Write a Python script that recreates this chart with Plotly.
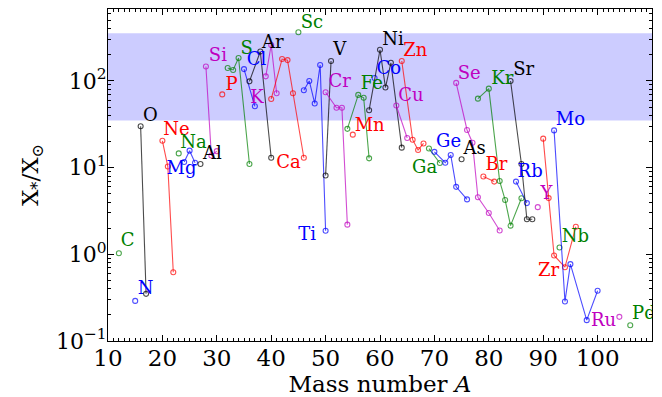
import math
import plotly.graph_objects as go

# ---- data ----
elements = ["C", "N", "O", "Ne", "Na", "Mg", "Al", "Si", "P", "S", "Cl", "Ar", "K", "Ca",
            "Sc", "Ti", "V", "Cr", "Mn", "Fe", "Co", "Ni", "Cu", "Zn", "Ga", "Ge", "As",
            "Se", "Br", "Kr", "Rb", "Sr", "Y", "Zr", "Nb", "Mo", "Ru", "Pd"]
atomic_numbers = [6, 7, 8, 10, 11, 12, 13, 14, 15, 16, 17, 18, 19, 20, 21, 22, 23, 24, 25,
                  26, 27, 28, 29, 30, 31, 32, 33, 34, 35, 36, 37, 38, 39, 40, 41, 42, 44, 46]
mass_numbers = [
    [12], [15], [16, 17], [20, 21, 22], [23], [24, 25, 26], [27], [28, 29, 30], [31],
    [32, 33, 34, 36], [35, 37], [36, 38, 40], [39, 40, 41], [40, 42, 43, 44, 46], [45],
    [46, 47, 48, 49, 50], [50, 51], [50, 52, 53, 54], [55], [54, 56, 57, 58], [59],
    [58, 60, 61, 62, 64], [63, 65], [64, 66, 67, 68], [69, 71], [70, 72, 73, 74, 76], [75],
    [74, 76, 77, 78, 80, 82], [79, 81], [78, 80, 82, 83, 84, 86], [85, 87], [84, 86, 87, 88],
    [89], [90, 91, 92, 94, 96], [93], [92, 94, 95, 98, 100], [104], [106]]
abundance_ratios = [
    [1.03], [0.29], [30, 0.35], [20.4, 10.3, 0.62], [14.6], [11.6, 15.7, 11.4], [11.0],
    [147, 13.8, 15.5], [70], [141, 134, 184, 11], [137, 51], [99, 219, 13], [113, 260, 72],
    [62, 179, 174, 72, 13], [364], [78, 100, 55, 153, 1.87], [8.1, 170], [74, 49, 49, 2.2],
    [24], [28, 69, 64, 12.8], [108], [46, 229, 84, 162, 17], [52, 22], [170, 21, 16, 19],
    [16.6, 11.3], [15.2, 11.4, 14.0, 6.0, 4.3], [12.5], [95, 27.2, 19.4, 4.56, 3.0, 1.88],
    [7.9, 6.9], [62.5, 81.5, 7.0, 4.24, 2.14, 4.44], [6.9, 3.9], [100, 11, 2.54, 2.54],
    [3.5], [21.6, 4.45, 0.97, 0.71, 2.08], [1.2], [26.9, 0.286, 0.77, 0.174, 0.38],
    [0.19], [0.152]]
label_A = [13.6, 16.9, 17.8, 22.6, 25.7, 23.5, 29.2, 30.2, 32.7, 35.5, 37.3, 40.3, 37.4, 43.2,
           47.5, 46.6, 52.6, 52.6, 58.1, 58.5, 61.6, 62.4, 65.7, 66.5, 68.2, 72.6, 77.4,
           76.4, 81.4, 82.5, 87.6, 86.4, 90.6, 91.0, 95.9, 95.0, 101.1, 108.5]
label_X = [1.39, 0.39, 38.7, 26.7, 18.8, 9.4, 14.0, 189, 87.5, 232, 171, 272, 62, 11.2,
           463, 1.64, 223, 95.5, 29.7, 90, 134, 292, 65.9, 218, 9.8, 19.4, 16.3,
           120, 10.5, 105, 8.75, 131, 4.84, 0.63, 1.57, 34.8, 0.168, 0.2]
solar_band = [35, 355]
x_ticks = [10, 20, 30, 40, 50, 60, 70, 80, 90, 100]
y_ticks = [0.1, 1, 10, 100]
y_ticktext = ["10<sup>\u22121</sup>", "10<sup>0</sup>", "10<sup>1</sup>", "10<sup>2</sup>"]

# ---- styling ----
palette = {1: "rgb(0,128,0)", 2: "rgb(0,0,255)", 3: "rgb(0,0,0)", 4: "rgb(191,0,191)", 0: "rgb(255,0,0)"}
palette_a = {1: "rgba(0,128,0,0.7)", 2: "rgba(0,0,255,0.7)", 3: "rgba(0,0,0,0.7)",
             4: "rgba(191,0,191,0.7)", 0: "rgba(255,0,0,0.7)"}
FONT = "DejaVu Serif"

fig = go.Figure()

for name, z, A, X in zip(elements, atomic_numbers, mass_numbers, abundance_ratios):
    k = z % 5
    fig.add_trace(go.Scatter(
        x=A, y=X, mode="lines+markers", name=name, showlegend=False,
        line=dict(color=palette_a[k], width=1.1),
        marker=dict(symbol="circle-open", size=5, color=palette_a[k], line=dict(width=1.1)),
        hoverinfo="skip"))

fig.add_trace(go.Scatter(
    x=label_A, y=label_X, mode="text", text=elements, showlegend=False,
    textfont=dict(family=FONT, size=18,
                  color=[palette[z % 5] for z in atomic_numbers]),
    hoverinfo="skip"))

fig.add_shape(type="rect", xref="paper", x0=0, x1=1, yref="y",
              y0=solar_band[0], y1=solar_band[1],
              fillcolor="rgba(0,0,255,0.2)", line=dict(width=0), layer="below")

fig.update_xaxes(
    range=[10, 110], tickvals=x_ticks, ticks="inside", ticklen=6, tickwidth=1,
    tickcolor="black", showline=True, linecolor="black", linewidth=1, mirror="ticks",
    showgrid=False, zeroline=False, automargin=False, ticklabelstandoff=-4,
    minor=dict(ticks="inside", ticklen=3, dtick=1, tickcolor="black", showgrid=False),
    tickfont=dict(family=FONT, size=23, color="black"),
    title=dict(text="Mass number <i>A</i>", font=dict(family=FONT, size=23, color="black"),
               standoff=2))

minor_y = [m * 10 ** e for e in range(-1, 3) for m in range(2, 10)]
fig.update_yaxes(
    type="log", range=[-1, 2.83], tickvals=y_ticks, ticktext=y_ticktext,
    ticks="inside", ticklen=6, tickwidth=1, tickcolor="black",
    showline=True, linecolor="black", linewidth=1, mirror="ticks",
    showgrid=False, zeroline=False, automargin=False, ticklabelstandoff=-4,
    minor=dict(ticks="inside", ticklen=3, tickvals=minor_y, tickcolor="black", showgrid=False),
    tickfont=dict(family=FONT, size=22, color="black"),
    title=dict(text="X<sub>*</sub>/X<sub>\u2299</sub>", font=dict(family=FONT, size=23, color="black"),
               standoff=10))

fig.update_layout(
    width=654, height=389,
    margin=dict(l=100, r=10, t=1, b=56),
    paper_bgcolor="white", plot_bgcolor="white",
    font=dict(family=FONT, color="black"))

fig.write_html("out.html")
